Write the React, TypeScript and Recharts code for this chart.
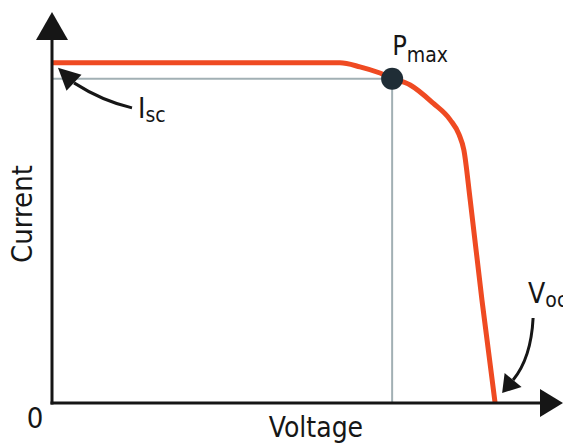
import { LineChart, Line, XAxis, YAxis, ReferenceLine, ReferenceDot } from 'recharts'

// I-V curve, both axes in arbitrary units (0..100)
const voltage = [0, 20, 40, 59.0, 63.1, 67.2, 69.7, 73.4, 78.1, 81.6, 83.4, 84.4, 85.7, 88.1, 90.8]
const current = [93.7, 93.7, 93.7, 93.7, 92.6, 90.9, 89.5, 87.6, 82.6, 78.0, 74.0, 69.7, 55.9, 28.4, 0]

const ISC = 93.7
const VOC = 90.8
const PMAX_V = 69.7
const PMAX_I = 89.3

const data = voltage.map((v, k) => ({ v, i: current[k] }))

const FONT = "'DejaVu Sans Condensed', 'DejaVu Sans', sans-serif"
const INK = '#161616'
const RED = '#ef4a22'
const GRAY = '#a2b0b4'

const textStyle = { fontFamily: FONT, fontStretch: 'condensed' as const, fill: INK }

function YArrow({ cx, cy }: any) {
  return <polygon points={`${cx},${cy - 28} ${cx - 16},${cy} ${cx + 16},${cy}`} fill={INK} />
}

function XArrow({ cx, cy }: any) {
  return <polygon points={`${cx + 23},${cy} ${cx},${cy - 14} ${cx},${cy + 14}`} fill={INK} />
}

function OriginText({ cx, cy }: any) {
  return (
    <g style={textStyle}>
      <text x={cx - 17} y={cy + 25} fontSize={29} textAnchor="middle" {...textStyle}>0</text>
      <text x={cx + 264} y={cy + 34} fontSize={28} textAnchor="middle" {...textStyle}>Voltage</text>
      <text
        x={cx - 30}
        y={cy - 189}
        fontSize={29}
        textAnchor="middle"
        dominantBaseline="central"
        transform={`rotate(-90 ${cx - 30} ${cy - 189})`}
        {...textStyle}
      >
        Current
      </text>
    </g>
  )
}

function PmaxDot({ cx, cy }: any) {
  return (
    <g>
      <circle cx={cx} cy={cy} r={11} fill="#1f2d36" />
      <text x={cx} y={cy - 24} fontSize={27} {...textStyle}>
        P<tspan fontSize={21} dy={7}>max</tspan>
      </text>
    </g>
  )
}

function IscNote({ cx, cy }: any) {
  return (
    <g>
      <path d={`M${cx + 80},${cy + 45} Q${cx + 50},${cy + 38} ${cx + 22},${cy + 20}`} stroke={INK} strokeWidth={3} fill="none" />
      <polygon points={`${cx + 6},${cy + 5} ${cx + 29.5},${cy + 12} ${cx + 14.5},${cy + 28}`} fill={INK} />
      <text x={cx + 86} y={cy + 55} fontSize={28} {...textStyle}>
        I<tspan fontSize={21} dy={4}>sc</tspan>
      </text>
    </g>
  )
}

function VocNote({ cx, cy }: any) {
  return (
    <g>
      <path d={`M${cx + 38},${cy - 85} Q${cx + 36},${cy - 45} ${cx + 18},${cy - 23}`} stroke={INK} strokeWidth={3} fill="none" />
      <polygon points={`${cx + 7},${cy - 10} ${cx + 26.5},${cy - 16} ${cx + 9.5},${cy - 30}`} fill={INK} />
      <text x={cx + 33} y={cy - 100} fontSize={28} {...textStyle}>
        V<tspan fontSize={21} dy={4}>oc</tspan>
      </text>
    </g>
  )
}

export default function App() {
  return (
    <div style={{ position: 'absolute', left: 0, top: 0, background: '#fff' }}>
      <LineChart width={563} height={444} data={data} margin={{ top: 40, right: 23, left: 0, bottom: 0 }}>
        <XAxis
          dataKey="v"
          type="number"
          domain={[0, 100]}
          tick={false}
          tickLine={false}
          height={41}
          axisLine={{ stroke: INK, strokeWidth: 3, strokeLinecap: 'square' }}
        />
        <YAxis
          type="number"
          domain={[0, 100]}
          tick={false}
          tickLine={false}
          width={52}
          axisLine={{ stroke: INK, strokeWidth: 3, strokeLinecap: 'square' }}
        />
        <ReferenceLine segment={[{ x: 0, y: PMAX_I }, { x: PMAX_V, y: PMAX_I }]} stroke={GRAY} strokeWidth={2} />
        <ReferenceLine segment={[{ x: PMAX_V, y: 0 }, { x: PMAX_V, y: PMAX_I }]} stroke={GRAY} strokeWidth={2} />
        <Line
          type="monotone"
          dataKey="i"
          stroke={RED}
          strokeWidth={5}
          dot={false}
          activeDot={false}
          isAnimationActive={false}
        />
        <ReferenceDot x={PMAX_V} y={PMAX_I} shape={PmaxDot} />
        <ReferenceDot x={0} y={ISC} shape={IscNote} />
        <ReferenceDot x={VOC} y={0} shape={VocNote} />
        <ReferenceDot x={0} y={100} shape={YArrow} />
        <ReferenceDot x={100} y={0} shape={XArrow} />
        <ReferenceDot x={0} y={0} shape={OriginText} />
      </LineChart>
    </div>
  )
}
